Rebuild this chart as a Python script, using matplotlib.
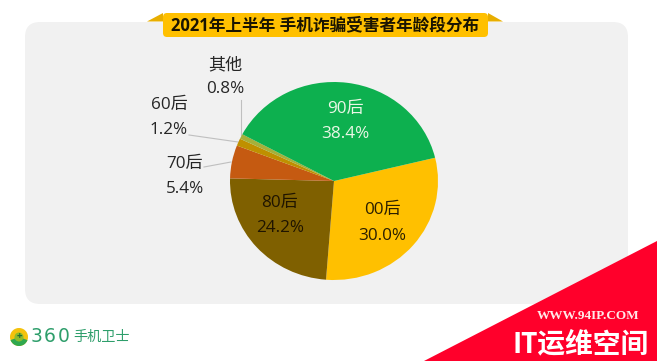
"""2021 H1 phone fraud victims by age group, pie on a rounded panel."""
import matplotlib.pyplot as plt
from matplotlib.patches import Circle, FancyBboxPatch, Polygon, Wedge

plt.rcParams["font.family"] = ["Open Sans", "Noto Sans CJK SC", "DejaVu Sans"]

TITLE = "2021年上半年 手机诈骗受害者年龄段分布"
CATEGORIES = ["00后", "80后", "70后", "60后", "其他", "90后"]
SHARES = [30.0, 24.2, 5.4, 1.2, 0.8, 38.4]
COLORS = ["#FFC000", "#7F6000", "#C55A11", "#BF9000", "#A5B03A", "#0DB04F"]

W, H = 657, 361
# the pie in the picture is slightly wider than tall
CX, CY, RX, RY = 334, 181, 104, 99


def py(y):
    # picture y (down) to axes y (up)
    return H - y


def pixel_axes(fig, left, top, width, height):
    return fig.add_axes([left / W, 1 - (top + height) / H, width / W, height / H])


fig = plt.figure(figsize=(W / 100, H / 100), dpi=100)
bg = fig.add_axes([0, 0, 1, 1])
bg.set_xlim(0, W)
bg.set_ylim(0, H)
bg.axis("off")

# panel
bg.add_patch(FancyBboxPatch((40, py(289)), 573, 252, boxstyle="round,pad=15,rounding_size=15",
                            fc="#F1F1F1", ec="none", zorder=1))

# title banner
bg.add_patch(Polygon([(147, py(21.5)), (163, py(13)), (163, py(21.5))], fc="#E8AE00", ec="none", zorder=2))
bg.add_patch(Polygon([(503, py(21.5)), (488, py(13)), (488, py(21.5))], fc="#E8AE00", ec="none", zorder=2))
bg.add_patch(FancyBboxPatch((167, py(33)), 317, 16, boxstyle="round,pad=4,rounding_size=4",
                            fc="#FFC000", ec="none", zorder=3))
bg.text(325.5, py(25), TITLE, ha="center", va="center", fontsize=12, fontweight="bold",
        color="#1A1400", zorder=4)

# leader lines
leader = {"color": "#BFBFBF", "linewidth": 0.8, "zorder": 2}
bg.plot([241, 241], [py(100), py(135)], **leader)
bg.plot([189, 238], [py(135), py(142)], **leader)
bg.plot([204, 231], [py(167), py(162)], **leader)

# pie, clockwise
pie_ax = pixel_axes(fig, CX - RX, CY - RY, 2 * RX, 2 * RY)
pie_ax.pie(SHARES, colors=COLORS, startangle=13.6, counterclock=False, radius=1,
           wedgeprops={"linewidth": 0})
pie_ax.set_xlim(-1, 1)
pie_ax.set_ylim(-1, 1)
pie_ax.set_aspect("auto")
pie_ax.patch.set_visible(False)

ax = fig.add_axes([0, 0, 1, 1])
ax.set_xlim(0, W)
ax.set_ylim(0, H)
ax.axis("off")

# labels: name above, share below
DARK = "#262626"
label_pos = [(382, 210, 236, "#2B1F00"), (280, 203, 228, "#1F1400"), (185, 164, 189, DARK),
             (169, 105, 130, DARK), (225, 65, 89, DARK), (345, 109, 134, "#EAF7E6")]
for cat, share, (x, y1, y2, col) in zip(CATEGORIES, SHARES, label_pos):
    ax.text(x, py(y1), cat, ha="center", va="center", fontsize=12.3, color=col)
    ax.text(x, py(y2), f"{share}%", ha="center", va="center", fontsize=12.3, color=col)

# 360 logo
ax.add_patch(Wedge((19, py(337)), 9, 0, 360, fc="#F4C20D", ec="none", zorder=3))
ax.add_patch(Wedge((19, py(337)), 9, 200, 340, fc="#2FA84F", ec="none", zorder=4))
ax.add_patch(Circle((19, py(337)), 4.5, fc="#8DBB2B", ec="none", zorder=5))
ax.text(19, py(337), "+", ha="center", va="center", fontsize=7, fontweight="bold", color="#1F6B35", zorder=6)
for i, ch in enumerate("360"):
    ax.text(36 + 14 * i, py(337), ch, ha="center", va="center", fontsize=13.5, family="DejaVu Sans",
            color="#2E9E6B", zorder=4)
ax.text(73, py(337), "手机卫士", ha="left", va="center", fontsize=10.2, color="#2E9E6B", zorder=4)

# watermark corner
ax.add_patch(Polygon([(657, py(241)), (657, py(361)), (424, py(361))], fc="#FF002B", ec="none", zorder=6))
ax.text(588, py(316), "WWW.94IP.COM", ha="center", va="center", fontsize=9.5, fontweight="bold",
        family="Liberation Serif", color="#FFE9E9", zorder=7)
ax.text(581, py(345), "IT运维空间", ha="center", va="center", fontsize=20, fontweight="bold",
        color="white", zorder=7)

fig.savefig("out.png", dpi=100, facecolor="white")
